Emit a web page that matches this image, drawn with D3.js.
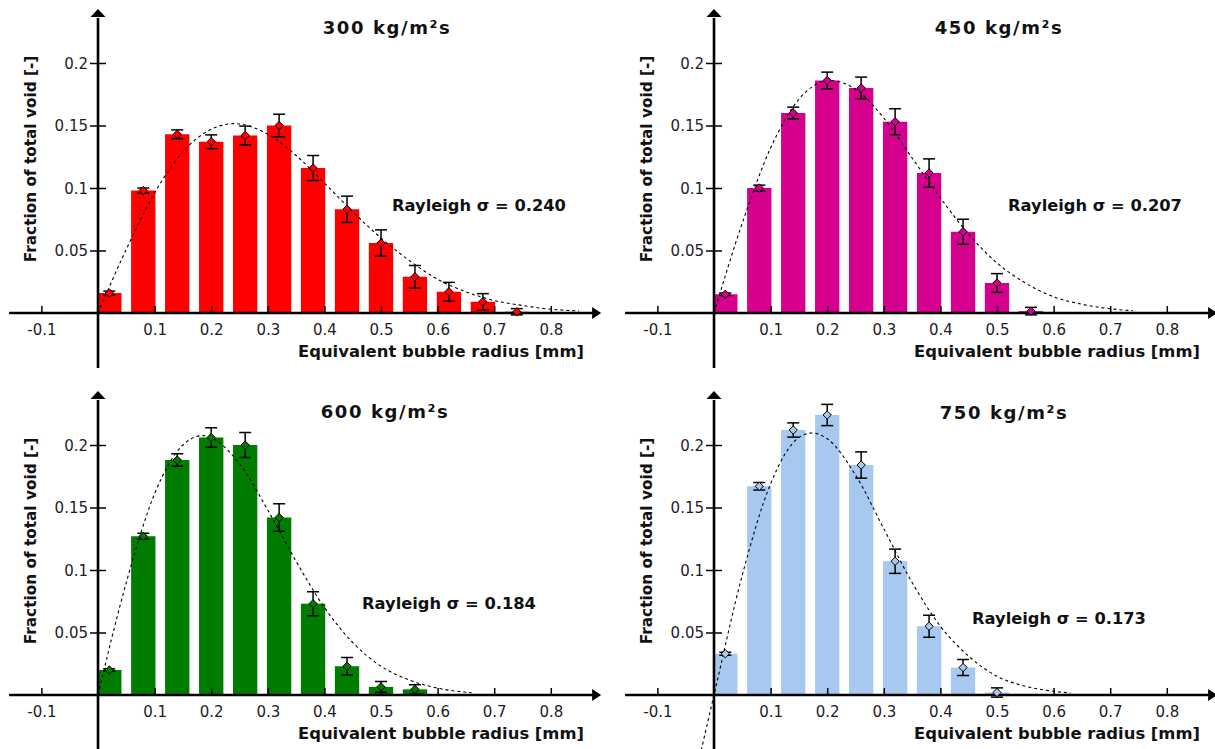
<!DOCTYPE html>
<html><head><meta charset="utf-8">
<script src="https://cdn.jsdelivr.net/npm/d3@7"></script>
<style>
body{margin:0;background:#fff}
svg{display:block}
text{font-family:"DejaVu Sans",Verdana,sans-serif}
</style>
</head><body>
<svg id="c" width="1215" height="749"></svg>
<script>
// ---------- data ----------
const radius = [0.02, 0.08, 0.14, 0.20, 0.26, 0.32, 0.38, 0.44, 0.50, 0.56, 0.62, 0.68, 0.74];

const frac300 = [0.016, 0.098, 0.143, 0.137, 0.142, 0.150, 0.116, 0.083, 0.056, 0.029, 0.017, 0.009, 0.001];
const err300  = [0.0015, 0.002, 0.0035, 0.0055, 0.0075, 0.009, 0.010, 0.0105, 0.0105, 0.009, 0.0075, 0.0065, 0.0025];

const frac450 = [0.015, 0.100, 0.160, 0.186, 0.180, 0.153, 0.112, 0.065, 0.024, 0.0015];
const err450  = [0.001, 0.0023, 0.0047, 0.0067, 0.0087, 0.0104, 0.0113, 0.010, 0.0075, 0.003];

const frac600 = [0.020, 0.127, 0.188, 0.206, 0.200, 0.142, 0.073, 0.023, 0.0065, 0.0045];
const err600  = [0.001, 0.0024, 0.005, 0.0078, 0.010, 0.011, 0.0096, 0.007, 0.0043, 0.0037];

const frac750 = [0.033, 0.167, 0.212, 0.224, 0.184, 0.107, 0.055, 0.022, 0.002];
const err750  = [0.0012, 0.003, 0.0057, 0.0085, 0.0105, 0.0097, 0.0088, 0.0064, 0.0037];

// dashed Rayleigh fit curves
const fitX300 = [0, 0.05, 0.10, 0.15, 0.20, 0.24, 0.30, 0.35, 0.40, 0.45, 0.50, 0.55, 0.60, 0.65, 0.70, 0.75, 0.80, 0.85];
const fitY300 = [0, 0.051, 0.096, 0.129, 0.147, 0.1515, 0.143, 0.126, 0.104, 0.081, 0.060, 0.042, 0.027, 0.017, 0.010, 0.006, 0.003, 0.0017];

const fitX450 = [0, 0.05, 0.10, 0.15, 0.205, 0.25, 0.30, 0.35, 0.40, 0.45, 0.50, 0.55, 0.60, 0.65, 0.70, 0.74];
const fitY450 = [0, 0.072, 0.132, 0.171, 0.186, 0.179, 0.156, 0.124, 0.092, 0.063, 0.040, 0.024, 0.013, 0.007, 0.0034, 0.0018];

const fitX600 = [0, 0.05, 0.10, 0.15, 0.185, 0.25, 0.30, 0.35, 0.40, 0.45, 0.50, 0.55, 0.60, 0.66];
const fitY600 = [0, 0.090, 0.161, 0.200, 0.2075, 0.185, 0.148, 0.107, 0.070, 0.042, 0.023, 0.012, 0.0055, 0.0018];

const fitX750 = [-0.025, 0, 0.05, 0.10, 0.15, 0.173, 0.20, 0.25, 0.30, 0.35, 0.40, 0.45, 0.50, 0.55, 0.60, 0.63];
const fitY750 = [-0.049, 0, 0.096, 0.169, 0.206, 0.2096, 0.205, 0.176, 0.133, 0.090, 0.055, 0.031, 0.015, 0.007, 0.003, 0.0016];

const titles = ["300 kg/m\u00B2s", "450 kg/m\u00B2s", "600 kg/m\u00B2s", "750 kg/m\u00B2s"];
const rayleighLabels = ["Rayleigh \u03C3 = 0.240", "Rayleigh \u03C3 = 0.207", "Rayleigh \u03C3 = 0.184", "Rayleigh \u03C3 = 0.173"];
const colors = ["#ff0000", "#d5008e", "#007d00", "#a8c9ef"];

const xTickValues = [-0.1, 0.1, 0.2, 0.3, 0.4, 0.5, 0.6, 0.7, 0.8];
const xTickLabels = ["-0.1", "0.1", "0.2", "0.3", "0.4", "0.5", "0.6", "0.7", "0.8"];
const yTickValues = [0.05, 0.1, 0.15, 0.2];
const yTickLabels = ["0.05", "0.1", "0.15", "0.2"];
const xAxisLabel = "Equivalent bubble radius [mm]";
const yAxisLabel = "Fraction of total void [-]";

// ---------- layout ----------
const PX_X = 566;   // pixels per mm
const PX_Y = 1250;  // pixels per unit fraction
const BAR_W = 0.043;

const panels = [
  {ox: 98,  oy: 313, frac: frac300, err: err300, fx: fitX300, fy: fitY300, k: 0, tx: 387,  ty: 33.5, rx: 392, ry: 211},
  {ox: 714, oy: 313, frac: frac450, err: err450, fx: fitX450, fy: fitY450, k: 1, tx: 999,  ty: 33.5, rx: 1008, ry: 211},
  {ox: 98,  oy: 695, frac: frac600, err: err600, fx: fitX600, fy: fitY600, k: 2, tx: 385,  ty: 418, rx: 362, ry: 609},
  {ox: 714, oy: 695, frac: frac750, err: err750, fx: fitX750, fy: fitY750, k: 3, tx: 1004, ty: 419, rx: 972, ry: 624}
];

const svg = d3.select("#c");

panels.forEach(p => {
  const g = svg.append("g");
  const x = d3.scaleLinear().domain([0, 1]).range([p.ox, p.ox + PX_X]);
  const y = d3.scaleLinear().domain([0, 1]).range([p.oy, p.oy - PX_Y]);
  const color = colors[p.k];
  const data = p.frac.map((v, i) => ({r: radius[i], v: v, e: p.err[i]}));

  // bars
  g.append("g").selectAll("rect").data(data).join("rect")
    .attr("x", d => x(d.r - BAR_W / 2))
    .attr("width", x(BAR_W) - x(0))
    .attr("y", d => y(d.v))
    .attr("height", d => y(0) - y(d.v))
    .attr("fill", color);

  // x axis (ticks + labels)
  const xa = g.append("g").attr("transform", `translate(0,${p.oy})`)
    .call(d3.axisBottom(x).tickValues(xTickValues).tickFormat((d, i) => xTickLabels[i]).tickSizeOuter(0));
  xa.select(".domain").remove();
  xa.selectAll(".tick line").attr("y1", -7).attr("y2", 1).attr("stroke", "#000").attr("stroke-width", 1.5);
  xa.selectAll(".tick text").attr("y", 22).attr("dy", null)
    .attr("font-size", 15).attr("fill", "#1c1c28").attr("font-family", '"DejaVu Sans",Verdana,sans-serif');

  // y axis
  const ya = g.append("g").attr("transform", `translate(${p.ox},0)`)
    .call(d3.axisLeft(y).tickValues(yTickValues).tickFormat((d, i) => yTickLabels[i]).tickSizeOuter(0));
  ya.select(".domain").remove();
  ya.selectAll(".tick line").attr("x1", -8).attr("x2", 8).attr("stroke", "#000").attr("stroke-width", 1.5);
  ya.selectAll(".tick text").attr("x", -10).attr("dy", "0.36em")
    .attr("font-size", 15).attr("fill", "#1c1c28").attr("font-family", '"DejaVu Sans",Verdana,sans-serif');

  // axis lines with arrows
  g.append("line").attr("x1", x(-0.157)).attr("x2", x(0.876)).attr("y1", y(0)).attr("y2", y(0))
    .attr("stroke", "#000").attr("stroke-width", 2.6);
  g.append("path")
    .attr("d", `M${x(0.889)},${y(0)} L${x(0.873)},${y(0) - 6} L${x(0.873)},${y(0) + 6} Z`)
    .attr("fill", "#000");
  g.append("line").attr("x1", x(0)).attr("x2", x(0)).attr("y1", y(-0.044)).attr("y2", y(0.236))
    .attr("stroke", "#000").attr("stroke-width", 2.6);
  g.append("path")
    .attr("d", `M${x(0)},${y(0.2432)} L${x(0) - 7.5},${y(0.2368)} L${x(0) + 7.5},${y(0.2368)} Z`)
    .attr("fill", "#000");

  // dashed fit curve
  const fit = p.fx.map((r, i) => [r, p.fy[i]]);
  g.append("path").datum(fit)
    .attr("d", d3.line().x(d => x(d[0])).y(d => y(d[1])).curve(d3.curveMonotoneX))
    .attr("fill", "none").attr("stroke", "#000").attr("stroke-width", 1.1)
    .attr("stroke-dasharray", "3,3");

  // error bars
  const eb = g.append("g").attr("stroke", "#000").attr("stroke-width", 1.5);
  data.forEach(d => {
    eb.append("line").attr("x1", x(d.r)).attr("x2", x(d.r)).attr("y1", y(d.v - d.e)).attr("y2", y(d.v + d.e));
    eb.append("line").attr("x1", x(d.r) - 6).attr("x2", x(d.r) + 6).attr("y1", y(d.v - d.e)).attr("y2", y(d.v - d.e));
    eb.append("line").attr("x1", x(d.r) - 6).attr("x2", x(d.r) + 6).attr("y1", y(d.v + d.e)).attr("y2", y(d.v + d.e));
  });

  // diamond markers
  g.append("g").selectAll("path").data(data).join("path")
    .attr("transform", d => `translate(${x(d.r)},${y(d.v)})`)
    .attr("d", d3.symbol(d3.symbolDiamond2, 44))
    .attr("fill", color).attr("stroke", "#000").attr("stroke-width", 1);

  // titles and labels
  g.append("text").attr("x", p.tx).attr("y", p.ty).attr("text-anchor", "middle")
    .attr("font-size", 18).attr("font-weight", "bold").attr("letter-spacing", 1.6).attr("fill", "#111")
    .text(titles[p.k]);
  g.append("text").attr("x", p.rx).attr("y", p.ry)
    .attr("font-size", 16.3).attr("font-weight", "bold").attr("fill", "#111")
    .text(rayleighLabels[p.k]);
  g.append("text").attr("x", p.ox + 486).attr("y", p.oy + 44).attr("text-anchor", "end")
    .attr("font-size", 16.4).attr("font-weight", "bold").attr("fill", "#111")
    .text(xAxisLabel);
  g.append("text").attr("transform", `translate(${p.ox - 62},${p.oy - 154}) rotate(-90)`)
    .attr("text-anchor", "middle")
    .attr("font-size", 15.3).attr("font-weight", "bold").attr("fill", "#111")
    .text(yAxisLabel);
});
</script>
</body></html>
